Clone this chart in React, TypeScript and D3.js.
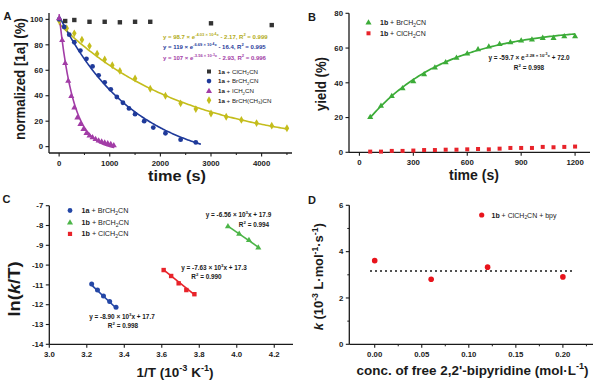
import React from "react";
import * as d3 from "d3";

const FONT = "'Liberation Sans', Arial, Helvetica, sans-serif";
const INK = "#1a1a1a";

// ---- panel A : normalized [1a] (%) vs time (s)
const aClT = [120, 300, 600, 900, 1200, 1500, 1800, 3000, 4200];
const aClY = [98.7, 99.5, 98.1, 98.1, 97.7, 98.1, 98.1, 96.9, 95.5];
const aBrT = [0, 100, 200, 300, 420, 540, 660, 780, 900, 1020, 1140, 1260, 1380, 1500, 1680, 1860, 2100, 2400, 2700];
const aBrY = [100, 94, 88, 82, 75.5, 69, 63, 56, 50.5, 45, 39, 34.5, 30, 25.5, 20, 15, 10.5, 5.5, 3.3];
const aIT = [0, 60, 120, 180, 240, 300, 360, 420, 480, 540, 600, 660, 720, 780, 840, 900, 960, 1020, 1080];
const aIY = [101, 84, 66, 52, 40, 31, 23, 18, 14, 11, 9, 7.5, 6.2, 5, 4.2, 3.5, 2.8, 2.2, 1.2];
const aMeT = [0, 150, 300, 450, 600, 750, 900, 1050, 1200, 1500, 1800, 2100, 2400, 2700, 3000, 3300, 3600, 3900, 4200, 4500];
const aMeY = [99, 93, 89, 84, 79, 73, 68.5, 64, 59.5, 53.5, 45.5, 40, 34, 29.5, 26, 23.5, 21, 18.5, 16.5, 14.5];
// fit: a * exp(-b t) + c, plotted over [0, end]
const aBrFit = [119, 6.69e-4, -16.4, 2800];
const aIFit = [107, 3.56e-3, -2.93, 1090];
const aMeFit = [98.7, 4.03e-4, -2.17, 4500];
const aXTicks = [0, 1000, 2000, 3000, 4000];
const aXMinor = [500, 1500, 2500, 3500, 4500];
const aYTicks = [0, 20, 40, 60, 80, 100];

// ---- panel B : yield (%) vs time (s)
const bT = [60, 120, 180, 240, 300, 360, 420, 480, 540, 600, 660, 720, 780, 840, 900, 960, 1020, 1080, 1140, 1200];
const bBrY = [20.5, 27, 32.5, 37, 41, 45, 49, 52, 54.5, 57, 59.5, 61, 62.5, 63.5, 64.5, 65, 66, 66, 67, 67];
const bClY = [0.4, 0.4, 0.8, 0.8, 1.0, 1.3, 1.3, 1.5, 1.5, 1.7, 1.9, 1.7, 2.1, 2.5, 2.5, 2.5, 3.1, 2.9, 3.1, 3.3];
const bFit = [-59.7, 2.28e-3, 72.0, 60, 1200];
const bXTicks = [0, 300, 600, 900, 1200];
const bYTicks = [0, 20, 40, 60, 80];

// ---- panel C : ln(k/T) vs 1/T
const c1aX = [3.226, 3.257, 3.289, 3.322, 3.356];
const c1aY = [-10.95, -11.26, -11.56, -11.84, -12.13];
const c1bBrX = [3.953, 4.013, 4.065, 4.115];
const c1bBrY = [-8.03, -8.40, -8.72, -9.10];
const c1bClX = [3.61, 3.65, 3.69, 3.731, 3.774];
const c1bClY = [-10.25, -10.55, -10.92, -11.26, -11.47];
const cFits = [[-8.90, 17.7], [-6.56, 17.9], [-7.63, 17.3]];
const cXTicks = [3.0, 3.2, 3.4, 3.6, 3.8, 4.0, 4.2];
const cYTicks = [-14, -13, -12, -11, -10, -9, -8, -7];

// ---- panel D : k vs conc. of free bpy
const dConc = [0, 0.06, 0.12, 0.2];
const dK = [3.61, 2.81, 3.33, 2.91];
const dXTicks = [0, 0.05, 0.1, 0.15, 0.2];
const dXMinor = [0.025, 0.075, 0.125, 0.175, 0.225];
const dYTicks = [0, 2, 4, 6];
const dYMinor = [1, 3, 5];

const xA = d3.scaleLinear([-200, 4600], [49, 292]);
const yA = d3.scaleLinear([-5, 105], [153, 13]);
const xB = d3.scaleLinear([-58, 1283], [349, 590]);
const yB = d3.scaleLinear([0, 80], [152.3, 13.3]);
const xC = d3.scaleLinear([3.0, 4.3], [49.3, 293]);
const yC = d3.scaleLinear([-14, -7], [344.3, 205.7]);
const xD = d3.scaleLinear([-0.027, 0.232], [349.3, 593]);
const yD = d3.scaleLinear([0, 6], [344.3, 205.3]);

// rich text: [text, level, bold]; level 0 normal, 1 sup, 2 sup of sup, -1 sub
const LV = { "0": [0, 1], "1": [-0.42, 0.68], "2": [-0.72, 0.55], "-1": [0.28, 0.7] };
function rich(parts, fs) {
  let prev = 0;
  return parts.map(([t, lv, b], i) => {
    const dy = (LV[lv][0] - LV[prev][0]) * fs;
    prev = lv;
    return (
      <tspan key={i} dy={dy} fontSize={fs * LV[lv][1]} fontWeight={b ? "bold" : "normal"}
        fontStyle={b === "i" ? "italic" : undefined}>
        {t}
      </tspan>
    );
  });
}

function Axes({ x, y, xTicks, yTicks, xFmt, yFmt, xMinor = [], yMinor = [], fs = 7.5 }) {
  const [x0, x1] = x.range();
  const [y0, y1] = y.range();
  return (
    <g stroke={INK} fill={INK}>
      <line x1={x0} x2={x1} y1={y0} y2={y0} strokeWidth={1.3} />
      <line x1={x0} x2={x0} y1={y0} y2={y1} strokeWidth={1.3} />
      {xTicks.map((t) => (
        <g key={"x" + t}>
          <line x1={x(t)} x2={x(t)} y1={y0} y2={y0 + 3.5} strokeWidth={1.1} />
          <text x={x(t)} y={y0 + 12.5} textAnchor="middle" stroke="none" fontSize={fs} fontWeight="bold">
            {xFmt(t)}
          </text>
        </g>
      ))}
      {xMinor.map((t) => (
        <line key={"xm" + t} x1={x(t)} x2={x(t)} y1={y0} y2={y0 + 2} strokeWidth={1} />
      ))}
      {yTicks.map((t) => (
        <g key={"y" + t}>
          <line x1={x0} x2={x0 - 3.5} y1={y(t)} y2={y(t)} strokeWidth={1.1} />
          <text x={x0 - 6} y={y(t) + 2.7} textAnchor="end" stroke="none" fontSize={fs} fontWeight="bold">
            {yFmt(t)}
          </text>
        </g>
      ))}
      {yMinor.map((t) => (
        <line key={"ym" + t} x1={x0} x2={x0 - 2} y1={y(t)} y2={y(t)} strokeWidth={1} />
      ))}
    </g>
  );
}

const sq = (cx, cy, s, c, k) => <rect key={k} x={cx - s / 2} y={cy - s / 2} width={s} height={s} fill={c} />;
const tri = d3.symbol(d3.symbolTriangle, 16)();
const dia = d3.symbol(d3.symbolDiamond, 18)();
const mark = (path, cx, cy, c, k) => <path key={k} d={path} transform={`translate(${cx},${cy + (path === tri ? 0.5 : 0)})`} fill={c} />;

const expFit = ([a, b, c], t) => a * Math.exp(-b * t) + c;

function PanelA() {
  const cCl = "#333333", cBr = "#1f3a9a", cI = "#a23ca6", cMe = "#c4bd1c";
  const curve = (fit, col) => {
    const ts = d3.range(0, fit[3] + 1, fit[3] / 120);
    const line = d3.line().x((t) => xA(t)).y((t) => yA(expFit(fit, t))).curve(d3.curveLinear);
    return <path d={line(ts)} fill="none" stroke={col} strokeWidth={1.6} />;
  };
  const eq = (parts, y, col) => (
    <text x={163} y={y} fill={col} fontSize={6} fontWeight="bold">{rich(parts, 6)}</text>
  );
  const legend = [
    [cCl, "ClCH", "2", "CN", "sq"],
    [cBr, "BrCH", "2", "CN", "c"],
    [cI, "ICH", "2", "CN", "t"],
    [cMe, "BrCH(CH", "3", ")CN", "d"],
  ];
  return (
    <g>
      <text x={3.5} y={20} fontSize={11} fontWeight="bold" fill={INK}>A</text>
      <Axes x={xA} y={yA} xTicks={aXTicks} yTicks={aYTicks} xMinor={aXMinor} xFmt={String} yFmt={String} fs={7.8} />
      {curve(aMeFit, cMe)}
      {curve(aBrFit, cBr)}
      {curve(aIFit, cI)}
      {aMeT.map((t, i) => mark(dia, xA(t), yA(aMeY[i]), cMe, "m" + i))}
      {aBrT.map((t, i) => <circle key={"b" + i} cx={xA(t)} cy={yA(aBrY[i])} r={2.4} fill={cBr} />)}
      {aIT.map((t, i) => mark(tri, xA(t), yA(aIY[i]), cI, "i" + i))}
      {aClT.map((t, i) => sq(xA(t), yA(aClY[i]), 4.4, cCl, "c" + i))}
      {eq([["y = 98.7 × e", 0, 1], ["-4.03 × 10", 1, 1], ["-4", 2, 1], ["x", 1, 1], [" - 2.17,  R", 0, 1], ["2", 1, 1], [" = 0.999", 0, 1]], 39, "#b2ab18")}
      {eq([["y = 119 × e", 0, 1], ["-6.69 × 10", 1, 1], ["-4", 2, 1], ["x", 1, 1], [" - 16.4,  R", 0, 1], ["2", 1, 1], [" = 0.995", 0, 1]], 49, cBr)}
      {eq([["y = 107 × e", 0, 1], ["-3.56 × 10", 1, 1], ["-3", 2, 1], ["x", 1, 1], [" - 2.93,  R", 0, 1], ["2", 1, 1], [" = 0.996", 0, 1]], 60, cI)}
      {legend.map(([col, a, s, b, m], i) => {
        const cy = 71.5 + i * 9.6;
        return (
          <g key={"l" + i}>
            {m === "sq" && sq(209, cy, 4, col, "s")}
            {m === "c" && <circle cx={209} cy={cy} r={2.3} fill={col} />}
            {m === "t" && mark(tri, 209, cy, col, "t")}
            {m === "d" && mark(dia, 209, cy, col, "d")}
            <text x={218} y={cy + 2.2} fontSize={6.2} fill={INK}>
              {rich([["1a", 0, 1], [" + " + a, 0, 0], [s, -1, 0], [b, 0, 0]], 6.2)}
            </text>
          </g>
        );
      })}
      <text x={20} y={79} transform="rotate(-90 20 79)" dy={5} textAnchor="middle" fontSize={14} fontWeight="bold" fill={INK}
        textLength={122} lengthAdjust="spacingAndGlyphs">
        normalized [1a] (%)
      </text>
      <text x={177} y={181} textAnchor="middle" fontSize={15} fontWeight="bold" fill={INK} textLength={58} lengthAdjust="spacingAndGlyphs">
        time (s)
      </text>
    </g>
  );
}

function PanelB() {
  const cG = "#3cac38", cR = "#e8232a";
  const ts = d3.range(bFit[3], bFit[4] + 1, 10);
  const line = d3.line().x((t) => xB(t)).y((t) => yB(bFit[0] * Math.exp(-bFit[1] * t) + bFit[2]));
  return (
    <g>
      <text x={308} y={20.7} fontSize={11} fontWeight="bold" fill={INK}>B</text>
      <Axes x={xB} y={yB} xTicks={bXTicks} yTicks={bYTicks} xFmt={String} yFmt={String} fs={7.8} />
      <path d={line(ts)} fill="none" stroke={cG} strokeWidth={1.7} />
      {bT.map((t, i) => mark(tri, xB(t), yB(bBrY[i]), cG, "g" + i))}
      {bT.map((t, i) => sq(xB(t), yB(bClY[i]), 4, cR, "r" + i))}
      {mark(tri, 368.5, 22.3, cG, "lg")}
      {sq(368.5, 33.3, 4, cR, "lr")}
      <text x={380} y={25} fontSize={7} fill={INK}>{rich([["1b", 0, 1], [" + BrCH", 0, 0], ["2", -1, 0], ["CN", 0, 0]], 7)}</text>
      <text x={380} y={35.8} fontSize={7} fill={INK}>{rich([["1b", 0, 1], [" + ClCH", 0, 0], ["2", -1, 0], ["CN", 0, 0]], 7)}</text>
      <text x={529} y={60} textAnchor="middle" fontSize={6.4} fill={INK}>
        {rich([["y = -59.7 × e", 0, 1], ["-2.28 × 10", 1, 1], ["-3", 2, 1], ["x", 1, 1], [" + 72.0", 0, 1]], 6.4)}
      </text>
      <text x={529} y={69.5} textAnchor="middle" fontSize={6.4} fill={INK}>
        {rich([["R", 0, 1], ["2", 1, 1], [" = 0.998", 0, 1]], 6.4)}
      </text>
      <text x={320.7} y={84} transform="rotate(-90 320.7 84)" dy={5} textAnchor="middle" fontSize={15} fontWeight="bold" fill={INK}
        textLength={54} lengthAdjust="spacingAndGlyphs">
        yield (%)
      </text>
      <text x={474} y={180} textAnchor="middle" fontSize={15} fontWeight="bold" fill={INK} textLength={50} lengthAdjust="spacingAndGlyphs">
        time (s)
      </text>
    </g>
  );
}

function PanelC() {
  const cols = ["#2447a6", "#4cb548", "#e8232a"];
  const sets = [[c1aX, c1aY], [c1bBrX, c1bBrY], [c1bClX, c1bClY]];
  const names = [["1a", "BrCH"], ["1b", "BrCH"], ["1b", "ClCH"]];
  const eqs = [
    ["-8.90", "17.7", "0.998", 122, 318.5, 123, 327.5],
    ["-6.56", "17.9", "0.994", 238.5, 217, 254, 226.5],
    ["-7.63", "17.3", "0.990", 214, 269.5, 206.5, 278.5],
  ];
  return (
    <g>
      <text x={2.5} y={202.7} fontSize={11} fontWeight="bold" fill={INK}>C</text>
      <Axes x={xC} y={yC} xTicks={cXTicks} yTicks={cYTicks} xFmt={d3.format(".1f")} yFmt={String} fs={7.8} />
      {sets.map(([xs, ys], k) => {
        const [m, b] = cFits[k];
        const ext = d3.extent(xs);
        return (
          <g key={"s" + k}>
            <line x1={xC(ext[0])} x2={xC(ext[1])} y1={yC(m * ext[0] + b)} y2={yC(m * ext[1] + b)} stroke={cols[k]} strokeWidth={1.6} />
            {xs.map((v, i) =>
              k === 0 ? <circle key={i} cx={xC(v)} cy={yC(ys[i])} r={2.5} fill={cols[k]} />
                : k === 1 ? mark(tri, xC(v), yC(ys[i]), cols[k], i)
                  : sq(xC(v), yC(ys[i]), 4.4, cols[k], i)
            )}
          </g>
        );
      })}
      {eqs.map(([m, b, r2, ex, ey, rx, ry], k) => (
        <g key={"e" + k} fill={INK}>
          <text x={ex} y={ey} textAnchor="middle" fontSize={6.4}>
            {rich([["y = " + m + " × 10", 0, 1], ["3", 1, 1], ["x + " + b, 0, 1]], 6.4)}
          </text>
          <text x={rx} y={ry} textAnchor="middle" fontSize={6.4}>
            {rich([["R", 0, 1], ["2", 1, 1], [" = " + r2, 0, 1]], 6.4)}
          </text>
        </g>
      ))}
      {names.map(([a, h], i) => {
        const cy = 210.5 + i * 11.7;
        return (
          <g key={"l" + i}>
            {i === 0 && <circle cx={70} cy={cy} r={2.4} fill={cols[0]} />}
            {i === 1 && mark(tri, 70, cy, cols[1], "t")}
            {i === 2 && sq(70, cy, 4.2, cols[2], "s")}
            <text x={81.5} y={cy + 2.5} fontSize={7.2} fill={INK}>
              {rich([[a, 0, 1], [" + " + h, 0, 0], ["2", -1, 0], ["CN", 0, 0]], 7.2)}
            </text>
          </g>
        );
      })}
      <text x={20} y={289} transform="rotate(-90 20 289)" dy={5.5} textAnchor="middle" fontSize={16} fontWeight="bold" fill={INK}
        textLength={55} lengthAdjust="spacingAndGlyphs">
        {rich([["ln(", 0, 1], ["k", 0, "i"], ["/T)", 0, 1]], 16)}
      </text>
      <text x={175} y={377} textAnchor="middle" fontSize={13.5} fontWeight="bold" fill={INK}>
        {rich([["1/T (10", 0, 1], ["-3", 1, 1], [" K", 0, 1], ["-1", 1, 1], [")", 0, 1]], 13.5)}
      </text>
    </g>
  );
}

function PanelD() {
  const cR = "#e8141c";
  const avg = d3.mean(dK);
  return (
    <g>
      <text x={308} y={204} fontSize={11} fontWeight="bold" fill={INK}>D</text>
      <Axes x={xD} y={yD} xTicks={dXTicks} yTicks={dYTicks} xMinor={dXMinor} yMinor={dYMinor}
        xFmt={d3.format(".2f")} yFmt={String} fs={7.8} />
      <line x1={xD(-0.005)} x2={xD(0.21)} y1={yD(avg)} y2={yD(avg)} stroke={INK} strokeWidth={1.6} strokeDasharray="2 3" />
      {dConc.map((c, i) => <circle key={i} cx={xD(c)} cy={yD(dK[i])} r={2.8} fill={cR} />)}
      <circle cx={481.7} cy={215} r={2.6} fill={cR} />
      <text x={491.5} y={217.5} fontSize={7} fill={INK}>
        {rich([["1b", 0, 1], [" + ClCH", 0, 0], ["2", -1, 0], ["CN + bpy", 0, 0]], 7)}
      </text>
      <text x={323.3} y={276.7} transform="rotate(-90 323.3 276.7)" dy={5} textAnchor="middle" fontSize={13.5} fontWeight="bold" fill={INK}
        textLength={107} lengthAdjust="spacingAndGlyphs">
        {rich([["k", 0, "i"], [" (10", 0, 1], ["-3", 1, 1], [" L·mol", 0, 1], ["-1", 1, 1], ["·s", 0, 1], ["-1", 1, 1], [")", 0, 1]], 13.5)}
      </text>
      <text x={472.5} y={375} textAnchor="middle" fontSize={13.5} fontWeight="bold" fill={INK} textLength={232} lengthAdjust="spacingAndGlyphs">
        {rich([["conc. of free 2,2'-bipyridine (mol·L", 0, 1], ["-1", 1, 1], [")", 0, 1]], 13.5)}
      </text>
    </g>
  );
}

export default function App() {
  return (
    <svg width={600} height={386} viewBox="0 0 600 386" fontFamily={FONT}
      style={{ position: "absolute", left: 0, top: 0, background: "#fff" }}>
      <PanelA />
      <PanelB />
      <PanelC />
      <PanelD />
    </svg>
  );
}
